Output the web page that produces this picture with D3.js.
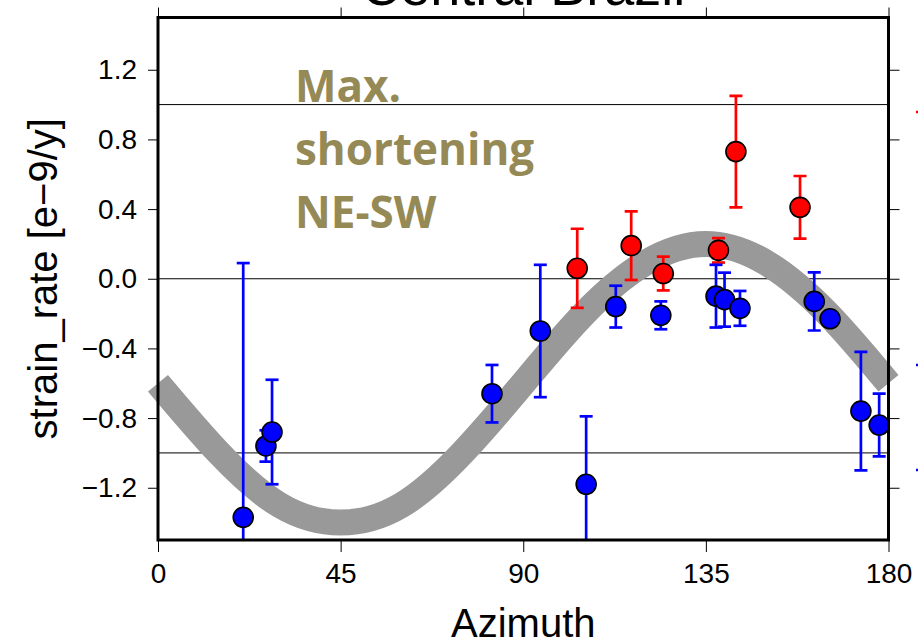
<!DOCTYPE html>
<html>
<head>
<meta charset="utf-8">
<script src="https://d3js.org/d3.v7.min.js"></script>
<style>
  body { margin: 0; background: #fff; }
  text { font-family: "Liberation Sans", Arial, Helvetica, sans-serif; fill: #000; }
  .note { font-family: "Open Sans", "Lato", sans-serif; font-weight: bold; fill: #958a56; }
</style>
</head>
<body>
<div class="chart"></div>
<script>
// strain rate vs azimuth, Central Brazil
var blueAz  = [21.0, 26.6, 28.1, 82.3, 94.2, 105.5, 112.8, 123.9, 137.5, 139.6, 143.4, 161.7, 165.6, 173.2, 177.7];
var blueVal = [-1.37, -0.96, -0.88, -0.66, -0.30, -1.18, -0.16, -0.21, -0.10, -0.12, -0.17, -0.13, -0.23, -0.76, -0.84];
var blueErr = [1.46, 0.09, 0.30, 0.165, 0.38, 0.39, 0.12, 0.08, 0.18, 0.155, 0.10, 0.167, 0.03, 0.34, 0.18];

var redAz  = [103.3, 116.6, 124.5, 138.1, 142.4, 158.2];
var redVal = [0.06, 0.19, 0.03, 0.163, 0.73, 0.41];
var redErr = [0.227, 0.197, 0.097, 0.07, 0.32, 0.18];

// grey band centre every 15 degrees
var bandAz  = [0, 15, 30, 45, 60, 75, 90, 105, 120, 135, 150, 165, 180];
var bandVal = [-0.60, -1.00, -1.30, -1.40, -1.30, -1.00, -0.60, -0.20, 0.09, 0.20, 0.09, -0.20, -0.60];

var refLines = [1.0, 0.0, -1.0];
var xTicks = [0, 45, 90, 135, 180];
var yTicks = [-1.2, -0.8, -0.4, 0.0, 0.4, 0.8, 1.2];

var svgWidth = 918;
var svgHeight = 643;
var margin = { top: 17.5, right: 29.5, bottom: 103, left: 158 };
var width = svgWidth - margin.left - margin.right;
var height = svgHeight - margin.top - margin.bottom;

var svg = d3.select(".chart")
    .append("svg")
    .attr("width", svgWidth)
    .attr("height", svgHeight)
    .style("display", "block");

var chart = svg.append("g")
    .attr("transform", "translate(" + margin.left + "," + margin.top + ")");

var xScale = d3.scaleLinear().domain([0, 180]).range([0, width]);
var yScale = d3.scaleLinear().domain([-1.5, 1.5]).range([height, 0]);

chart.append("clipPath").attr("id", "plotClip")
    .append("rect").attr("width", width).attr("height", height);

// thin reference lines
chart.selectAll(".ref")
    .data(refLines)
    .enter()
    .append("line")
    .attr("x1", 0).attr("x2", width)
    .attr("y1", function(d) { return yScale(d); })
    .attr("y2", function(d) { return yScale(d); })
    .attr("stroke", "#000")
    .attr("stroke-width", 1);

// grey band
var band = bandAz.map(function(a, i) { return [a, bandVal[i]]; });
chart.append("path")
    .datum(band)
    .attr("fill", "none")
    .attr("stroke", "#999999")
    .attr("stroke-width", 26)
    .attr("stroke-linecap", "butt")
    .attr("d", d3.line()
        .curve(d3.curveNatural)
        .x(function(d) { return xScale(d[0]); })
        .y(function(d) { return yScale(d[1]); }));

function drawSeries(az, val, err, color) {
    var data = az.map(function(a, i) { return { az: a, v: val[i], e: err[i] }; });
    var g = chart.append("g");
    var bars = g.append("g").attr("clip-path", "url(#plotClip)")
        .attr("stroke", color).attr("stroke-width", 2.7);
    bars.selectAll("line.bar")
        .data(data).enter().append("line")
        .attr("x1", function(d) { return xScale(d.az); })
        .attr("x2", function(d) { return xScale(d.az); })
        .attr("y1", function(d) { return yScale(d.v + d.e); })
        .attr("y2", function(d) { return yScale(d.v - d.e); });
    [1, -1].forEach(function(s) {
        bars.selectAll(null)
            .data(data).enter().append("line")
            .attr("x1", function(d) { return xScale(d.az) - 6.5; })
            .attr("x2", function(d) { return xScale(d.az) + 6.5; })
            .attr("y1", function(d) { return yScale(d.v + s * d.e); })
            .attr("y2", function(d) { return yScale(d.v + s * d.e); });
    });
    g.selectAll("circle")
        .data(data).enter().append("circle")
        .attr("cx", function(d) { return xScale(d.az); })
        .attr("cy", function(d) { return yScale(d.v); })
        .attr("r", 10)
        .attr("fill", color)
        .attr("stroke", "#000")
        .attr("stroke-width", 1.6);
}
drawSeries(redAz, redVal, redErr, "#ff0000");
drawSeries(blueAz, blueVal, blueErr, "#0000ff");

// axes (ticks only, frame drawn separately)
var leftAxis = d3.axisLeft(yScale).tickValues(yTicks).tickSize(10).tickPadding(11)
    .tickFormat(d3.format(".1f"));
var bottomAxis = d3.axisBottom(xScale).tickValues(xTicks).tickSize(12).tickPadding(11);
var topAxis = d3.axisTop(xScale).tickValues(xTicks).tickSize(10).tickFormat("");
var rightAxis = d3.axisRight(yScale).tickValues(yTicks).tickSize(11).tickFormat("");

function styleAxis(sel) {
    sel.select(".domain").remove();
    sel.selectAll(".tick line").attr("stroke", "#000").attr("stroke-width", 1);
    sel.selectAll(".tick text").attr("font-size", 28)
        .attr("font-family", "Liberation Sans, Arial, sans-serif").attr("fill", "#000");
}
chart.append("g").call(leftAxis).call(styleAxis);
chart.append("g").attr("transform", "translate(0," + height + ")").call(bottomAxis).call(styleAxis);
chart.append("g").call(topAxis).call(styleAxis);
chart.append("g").attr("transform", "translate(" + width + ",0)").call(rightAxis).call(styleAxis);

chart.append("rect")
    .attr("width", width).attr("height", height)
    .attr("fill", "none").attr("stroke", "#000").attr("stroke-width", 3);

// text
chart.append("text")
    .attr("x", width / 2).attr("y", -12.5)
    .attr("text-anchor", "middle")
    .attr("font-size", 54)
    .text("Central Brazil");

chart.append("text")
    .attr("x", width / 2).attr("y", height + 97)
    .attr("text-anchor", "middle")
    .attr("font-size", 40)
    .text("Azimuth");

chart.append("text")
    .attr("transform", "translate(" + (57 - margin.left) + "," + (height / 2) + ") rotate(-90)")
    .attr("text-anchor", "middle")
    .attr("font-size", 40)
    .text("strain_rate [e\u22129/y]");

var noteLines = ["Max.", "shortening", "NE-SW"];
chart.selectAll(".note")
    .data(noteLines).enter().append("text")
    .attr("class", "note")
    .attr("x", 295 - margin.left)
    .attr("y", function(d, i) { return 102 - margin.top + i * 63; })
    .attr("font-size", 44)
    .text(function(d) { return d; });

// legend, mostly outside the window
var legend = svg.append("g").attr("transform", "translate(929,0)");
legend.append("line").attr("x1", -13).attr("x2", 13).attr("y1", 112).attr("y2", 112)
    .attr("stroke", "#ff0000").attr("stroke-width", 2.7);
legend.append("circle").attr("cy", 187).attr("r", 10)
    .attr("fill", "#ff0000").attr("stroke", "#000").attr("stroke-width", 1.6);
[365, 470].forEach(function(yy) {
    legend.append("line").attr("x1", -13).attr("x2", 13).attr("y1", yy).attr("y2", yy)
        .attr("stroke", "#0000ff").attr("stroke-width", 2.7);
});
legend.append("circle").attr("cy", 412).attr("r", 10)
    .attr("fill", "#0000ff").attr("stroke", "#000").attr("stroke-width", 1.6);
</script>
</body>
</html>
